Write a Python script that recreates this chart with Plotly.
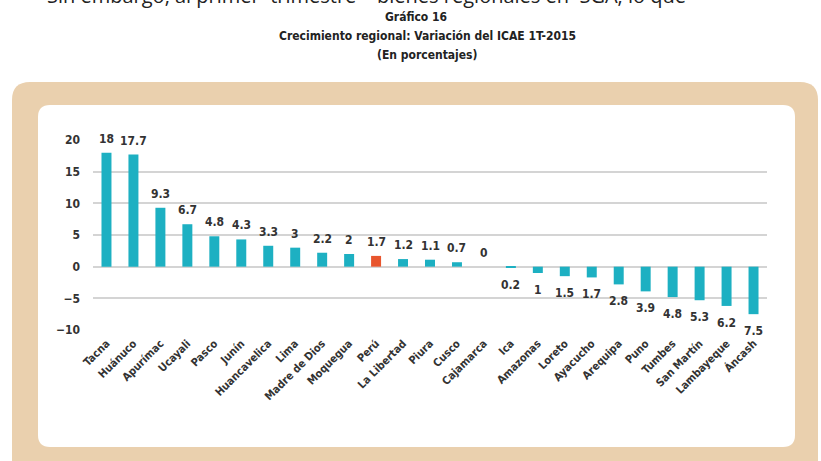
import plotly.graph_objects as go

regions = ["Tacna", "Huánuco", "Apurímac", "Ucayali", "Pasco", "Junín", "Huancavelica",
           "Lima", "Madre de Dios", "Moquegua", "Perú", "La Libertad", "Piura", "Cusco",
           "Cajamarca", "Ica", "Amazonas", "Loreto", "Ayacucho", "Arequipa", "Puno",
           "Tumbes", "San Martín", "Lambayeque", "Áncash"]
values = [18, 17.7, 9.3, 6.7, 4.8, 4.3, 3.3, 3, 2.2, 2, 1.7, 1.2, 1.1, 0.7, 0,
          -0.2, -1, -1.5, -1.7, -2.8, -3.9, -4.8, -5.3, -6.2, -7.5]
highlight = "Perú"
y_ticks = [-10, -5, 0, 5, 10, 15, 20]

W, H = 821, 461
L, R, T, B = 93, 767, 140, 330  # plot area in pixels

TEAL = "#1DB0C2"
RED = "#E8552D"
TAN = "#EAD0AE"
FONT = "DejaVu Sans Condensed, Liberation Sans Narrow, Arial Narrow, sans-serif"


def px(x):
    return (x - L) / (R - L)


def py(y):
    return (B - y) / (B - T)


def rrect(x0, y0, x1, y1, r):
    rx = r / (R - L)
    ry = r / (B - T)
    X0, X1 = px(x0), px(x1)
    Y0, Y1 = py(y0), py(y1)
    return (f"M {X0+rx},{Y0} L {X1-rx},{Y0} Q {X1},{Y0} {X1},{Y0-ry} "
            f"L {X1},{Y1+ry} Q {X1},{Y1} {X1-rx},{Y1} L {X0+rx},{Y1} "
            f"Q {X0},{Y1} {X0},{Y1+ry} L {X0},{Y0-ry} Q {X0},{Y0} {X0+rx},{Y0} Z")


colors = [RED if r == highlight else TEAL for r in regions]

fig = go.Figure()
fig.add_trace(go.Bar(x=regions, y=values, marker=dict(color=colors, line=dict(width=0)),
                     width=0.37, hoverinfo="x+y"))

annotations = []
for r, v in zip(regions, values):
    annotations.append(dict(
        x=r, y=v, xref="x", yref="y", text=f"{abs(v):g}", showarrow=False,
        yshift=14 if v >= 0 else -17, xanchor="center", yanchor="middle",
        font=dict(family=FONT, size=12, color="#333333", weight="bold")))

# header texts
annotations.append(dict(
    x=px(45), y=py(11), xref="paper", yref="paper", xanchor="left", yanchor="bottom",
    text="Sin embargo, al primer  trimestre    bienes regionales en  SGA, lo que",
    showarrow=False, font=dict(family="Open Sans, sans-serif", size=20, color="#222222")))
for txt, xc, yc in [("Gráfico 16", 416, 17),
                    ("Crecimiento regional: Variación del ICAE 1T-2015", 427, 36),
                    ("(En porcentajes)", 427, 55)]:
    annotations.append(dict(
        x=px(xc), y=py(yc), xref="paper", yref="paper", xanchor="center", yanchor="middle",
        text=txt, showarrow=False,
        font=dict(family=FONT, size=12, color="#222222", weight="bold")))

shapes = [
    dict(type="path", path=rrect(12, 82, 818, 480, 18), xref="paper", yref="paper",
         fillcolor=TAN, line=dict(width=0), layer="below"),
    dict(type="path", path=rrect(38, 105, 795, 447, 12), xref="paper", yref="paper",
         fillcolor="white", line=dict(width=0), layer="below"),
]

fig.update_layout(
    width=W, height=H,
    margin=dict(l=L, r=W - R, t=T, b=H - B, pad=0),
    paper_bgcolor="white", plot_bgcolor="rgba(0,0,0,0)",
    showlegend=False, bargap=0.63,
    annotations=annotations, shapes=shapes,
    xaxis=dict(type="category", categoryorder="array", categoryarray=regions,
               tickangle=-45, showgrid=False, showline=False, zeroline=False,
               ticks="", ticklabelstandoff=4,
               tickfont=dict(family=FONT, size=11, color="#333333", weight="bold")),
    yaxis=dict(range=[-10, 20], tickvals=y_ticks, showgrid=True, gridcolor="#D4D4D4",
               gridwidth=1.5, zeroline=True, zerolinecolor="#D4D4D4", zerolinewidth=1.5,
               showline=False, ticks="", ticklabelstandoff=12,
               tickfont=dict(family=FONT, size=12, color="#333333", weight="bold")),
)

fig.write_html("out.html")
